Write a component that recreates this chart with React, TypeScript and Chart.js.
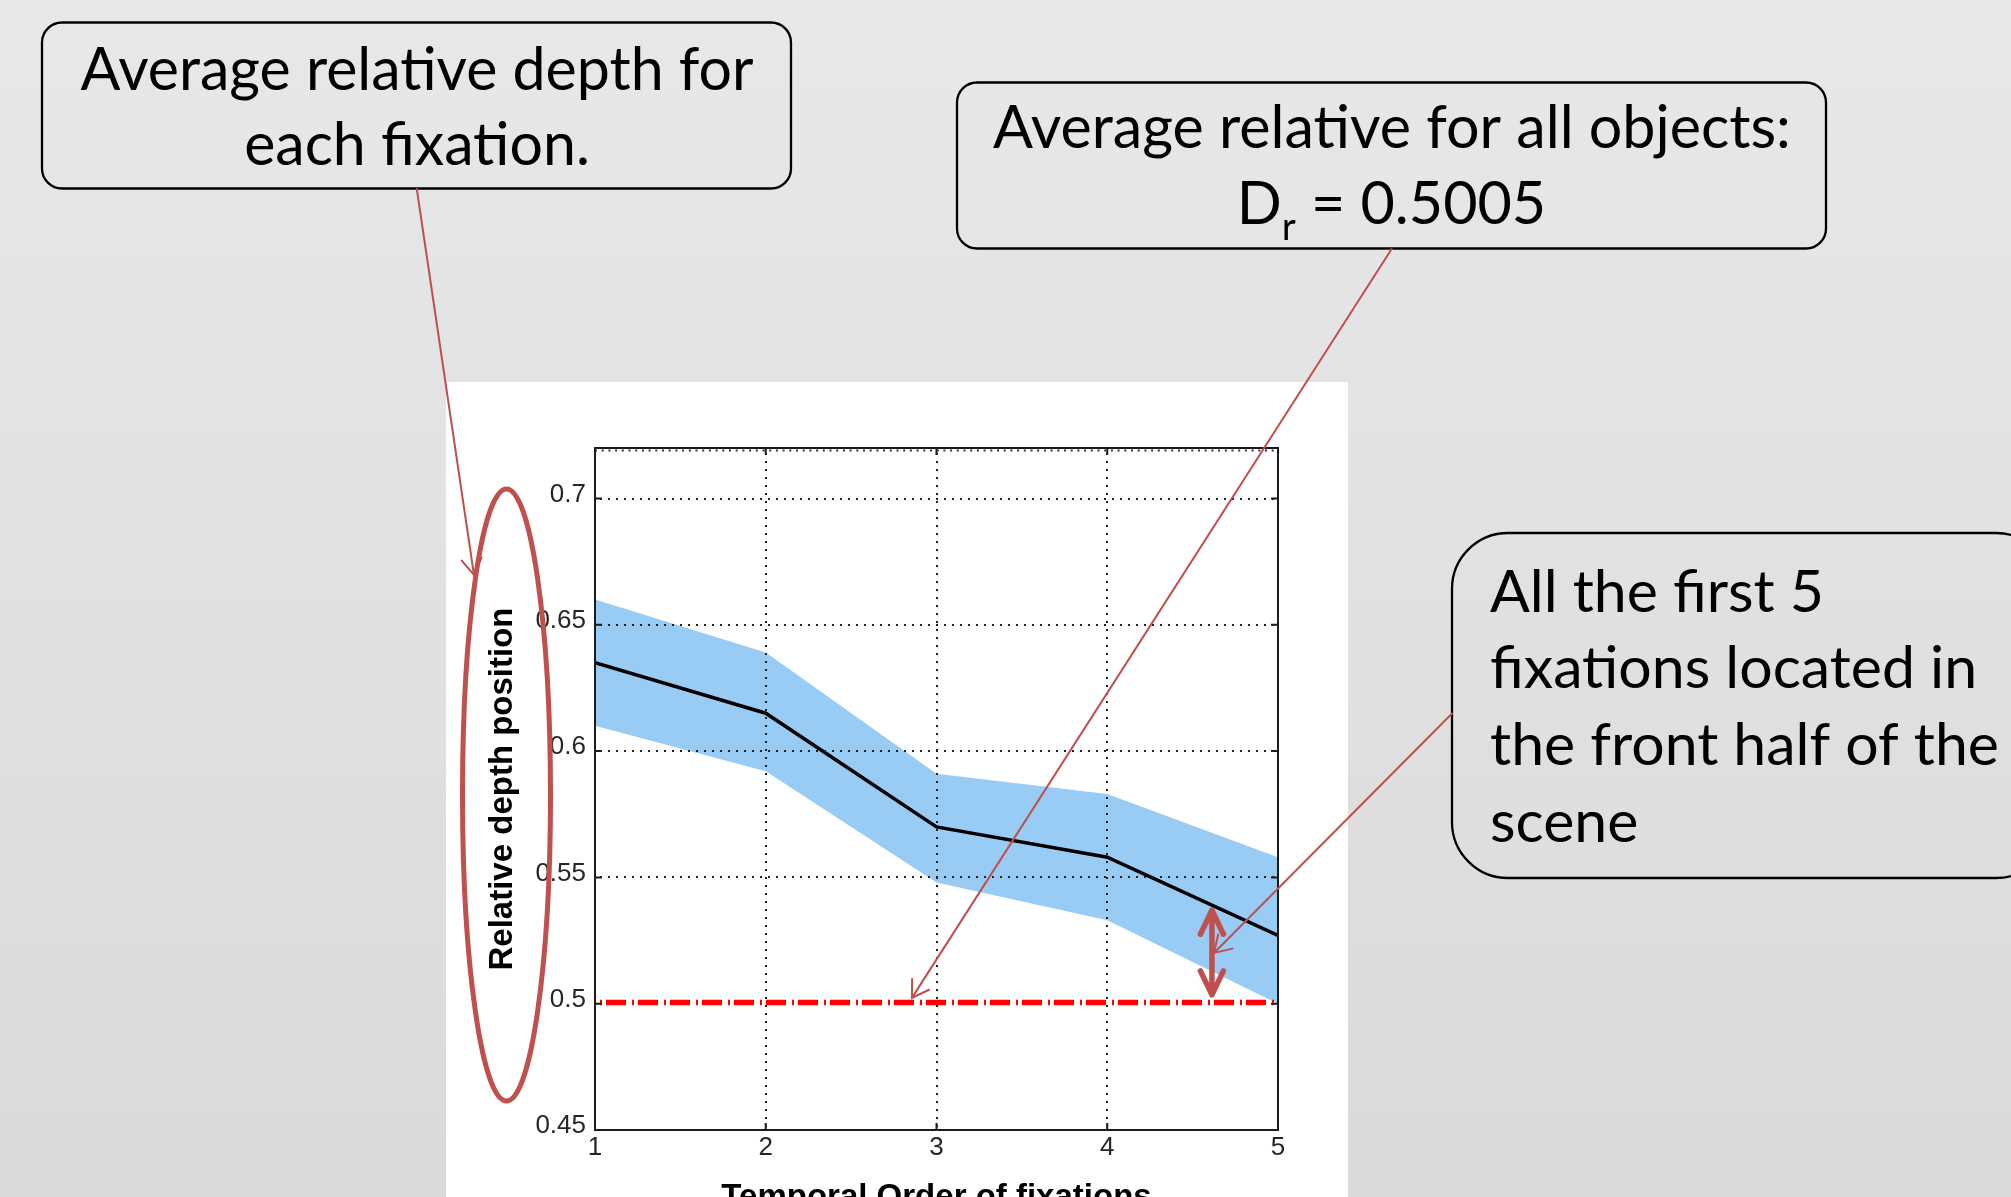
import React, { useEffect, useRef } from "react";
import { Chart, registerables } from "chart.js";

Chart.register(...registerables);

// ---------------- data ----------------
const FIXATION_ORDER = [1, 2, 3, 4, 5];
const MEAN_DEPTH = [0.635, 0.615, 0.570, 0.558, 0.527];
const UPPER_BAND = [0.660, 0.639, 0.591, 0.583, 0.558];
const LOWER_BAND = [0.610, 0.592, 0.548, 0.533, 0.500];
const ALL_OBJECTS_MEAN = [0.5005, 0.5005, 0.5005, 0.5005, 0.5005];

const X_TICKS = [1, 2, 3, 4, 5];
const X_TICK_LABELS = ["1", "2", "3", "4", "5"];
const Y_TICKS = [0.45, 0.5, 0.55, 0.6, 0.65, 0.7];
const Y_TICK_LABELS = ["0.45", "0.5", "0.55", "0.6", "0.65", "0.7"];
const Y_MIN = 0.45;
const Y_MAX = 0.72;

const X_TITLE = "Temporal Order of fixations";
const Y_TITLE = "Relative depth position";

const NOTE_EACH = ["Average relative depth for", "each fixation."];
const NOTE_ALL_LINE1 = "Average relative for all objects:";
const NOTE_ALL_SYMBOL = "D";
const NOTE_ALL_SUB = "r";
const NOTE_ALL_VALUE = " = 0.5005";
const NOTE_FRONT = ["All the first 5", "fixations located in", "the front half of the", "scene"];

// ---------------- styling ----------------
const W = 2011;
const H = 1218;
const AXIS_FONT = "'Liberation Sans', Arial, Helvetica, sans-serif";
const NOTE_FONT = "Lato, 'Open Sans', sans-serif";
const ACCENT = "#C0504D";
const BAND = "rgb(153, 204, 245)";
const GRID = "#1f1f1f";

function pts(ys: number[]) {
  return FIXATION_ORDER.map((x, i) => ({ x, y: ys[i] }));
}

function roundRectPath(ctx: CanvasRenderingContext2D, x: number, y: number, w: number, h: number, r: number) {
  ctx.beginPath();
  ctx.moveTo(x + r, y);
  ctx.lineTo(x + w - r, y);
  ctx.arcTo(x + w, y, x + w, y + r, r);
  ctx.lineTo(x + w, y + h - r);
  ctx.arcTo(x + w, y + h, x + w - r, y + h, r);
  ctx.lineTo(x + r, y + h);
  ctx.arcTo(x, y + h, x, y + h - r, r);
  ctx.lineTo(x, y + r);
  ctx.arcTo(x, y, x + r, y, r);
  ctx.closePath();
}

function fitSize(ctx: CanvasRenderingContext2D, text: string, target: number) {
  ctx.font = `100px ${NOTE_FONT}`;
  const w = ctx.measureText(text).width;
  return (100 * target) / w;
}

function thinArrow(ctx: CanvasRenderingContext2D, x1: number, y1: number, x2: number, y2: number, head: number, half: number) {
  const ang = Math.atan2(y2 - y1, x2 - x1);
  ctx.beginPath();
  ctx.moveTo(x1, y1);
  ctx.lineTo(x2, y2);
  ctx.moveTo(x2 - head * Math.cos(ang - half), y2 - head * Math.sin(ang - half));
  ctx.lineTo(x2, y2);
  ctx.lineTo(x2 - head * Math.cos(ang + half), y2 - head * Math.sin(ang + half));
  ctx.stroke();
}

const backgroundPlugin = {
  id: "slideBackground",
  beforeDraw(chart: any) {
    const { ctx } = chart;
    ctx.save();
    const g = ctx.createLinearGradient(0, 0, 0, 1197);
    g.addColorStop(0, "#e8e8e8");
    g.addColorStop(1, "#dadada");
    ctx.fillStyle = g;
    ctx.fillRect(0, 0, W, H);
    ctx.fillStyle = "#ffffff";
    ctx.fillRect(446, 382, 902, H - 382);
    ctx.restore();
  },
};

const framePlugin = {
  id: "matlabFrame",
  afterDatasetsDraw(chart: any) {
    const { ctx, chartArea: a, scales } = chart;
    const xs = scales.x;
    const ys = scales.y;
    ctx.save();
    ctx.strokeStyle = "#1a1a1a";
    ctx.lineWidth = 2;
    ctx.strokeRect(a.left, a.top, a.right - a.left, a.bottom - a.top);
    const tl = 7;
    ctx.beginPath();
    X_TICKS.forEach((v) => {
      const p = xs.getPixelForValue(v);
      ctx.moveTo(p, a.bottom);
      ctx.lineTo(p, a.bottom - tl);
      ctx.moveTo(p, a.top);
      ctx.lineTo(p, a.top + tl);
    });
    Y_TICKS.forEach((v) => {
      const p = ys.getPixelForValue(v);
      ctx.moveTo(a.left, p);
      ctx.lineTo(a.left + tl, p);
      ctx.moveTo(a.right, p);
      ctx.lineTo(a.right - tl, p);
    });
    ctx.stroke();
    ctx.setLineDash([2, 4.7]);
    ctx.lineWidth = 2;
    ctx.strokeStyle = "#333";
    ctx.beginPath();
    ctx.moveTo(a.left, a.top + 2.5);
    ctx.lineTo(a.right, a.top + 2.5);
    ctx.stroke();
    ctx.restore();
  },
};

const annotationPlugin = {
  id: "slideAnnotations",
  afterDraw(chart: any) {
    const { ctx, scales } = chart;
    const xs = scales.x;
    const ys = scales.y;
    const px = (v: number) => xs.getPixelForValue(v);
    const py = (v: number) => ys.getPixelForValue(v);
    ctx.save();

    // ellipse around the y-axis title
    ctx.strokeStyle = ACCENT;
    ctx.lineWidth = 5;
    ctx.beginPath();
    ctx.ellipse(506.5, 795, 44, 306, 0, 0, Math.PI * 2);
    ctx.stroke();

    // callout boxes
    ctx.strokeStyle = "#000";
    ctx.lineWidth = 2.3;
    roundRectPath(ctx, 42, 22.5, 749, 166, 20);
    ctx.stroke();
    roundRectPath(ctx, 957, 82.5, 869, 166, 20);
    ctx.stroke();
    roundRectPath(ctx, 1452, 533, 600, 345, 56);
    ctx.stroke();

    // callout texts
    ctx.fillStyle = "#000";
    ctx.textBaseline = "alphabetic";
    const s1 = fitSize(ctx, NOTE_EACH[0], 673);
    ctx.font = `${s1}px ${NOTE_FONT}`;
    ctx.textAlign = "center";
    ctx.fillText(NOTE_EACH[0], 417, 89.5);
    ctx.fillText(NOTE_EACH[1], 417, 165);

    const s2 = fitSize(ctx, NOTE_ALL_LINE1, 798);
    ctx.font = `${s2}px ${NOTE_FONT}`;
    ctx.fillText(NOTE_ALL_LINE1, 1392, 148);
    ctx.textAlign = "left";
    const wD = ctx.measureText(NOTE_ALL_SYMBOL).width;
    const wV = ctx.measureText(NOTE_ALL_VALUE).width;
    ctx.font = `${s2 * 0.65}px ${NOTE_FONT}`;
    const wR = ctx.measureText(NOTE_ALL_SUB).width;
    const total = wD + wR + wV;
    let x0 = 1391.5 - total / 2;
    ctx.font = `${s2}px ${NOTE_FONT}`;
    ctx.fillText(NOTE_ALL_SYMBOL, x0, 224);
    x0 += wD;
    ctx.font = `${s2 * 0.65}px ${NOTE_FONT}`;
    ctx.fillText(NOTE_ALL_SUB, x0, 240);
    x0 += wR;
    ctx.font = `${s2}px ${NOTE_FONT}`;
    ctx.fillText(NOTE_ALL_VALUE, x0, 224);

    const s3 = fitSize(ctx, NOTE_FRONT[2], 509);
    ctx.font = `${s3}px ${NOTE_FONT}`;
    const baselines = [611.7, 688.3, 765, 841.7];
    NOTE_FRONT.forEach((t, i) => ctx.fillText(t, 1490, baselines[i]));

    // thin pointer arrows
    ctx.strokeStyle = ACCENT;
    ctx.lineWidth = 2;
    ctx.lineCap = "round";
    const half = (32 * Math.PI) / 180;
    thinArrow(ctx, 416.8, 189, 474, 575, 19, half);
    thinArrow(ctx, 1391.6, 249, px(2.856), py(0.5023), 19, half);
    thinArrow(ctx, 1452, 713.5, px(4.625), py(0.5201), 19, half);

    // thick double-headed arrow between band and overall mean
    const ax = px(4.613);
    const yTop = py(0.537);
    const yBot = py(0.5035);
    ctx.lineWidth = 5.5;
    ctx.lineJoin = "round";
    ctx.beginPath();
    ctx.moveTo(ax, yTop);
    ctx.lineTo(ax, yBot);
    ctx.moveTo(ax - 11.5, yTop + 24);
    ctx.lineTo(ax, yTop);
    ctx.lineTo(ax + 11.5, yTop + 24);
    ctx.moveTo(ax - 11.5, yBot - 24);
    ctx.lineTo(ax, yBot);
    ctx.lineTo(ax + 11.5, yBot - 24);
    ctx.stroke();

    ctx.restore();
  },
};

function buildConfig(): any {
  return {
    type: "line",
    data: {
      datasets: [
        {
          label: "mean",
          data: pts(MEAN_DEPTH),
          borderColor: "#000000",
          borderWidth: 3.5,
          pointRadius: 0,
          tension: 0,
          fill: false,
          order: 0,
        },
        {
          label: "all objects",
          data: pts(ALL_OBJECTS_MEAN),
          borderColor: "#ff0000",
          borderWidth: 5.5,
          borderDash: [20, 6, 2, 4],
          borderDashOffset: 21,
          borderCapStyle: "butt",
          pointRadius: 0,
          fill: false,
          order: 1,
        },
        {
          label: "upper",
          data: pts(UPPER_BAND),
          borderWidth: 0,
          borderColor: "rgba(0,0,0,0)",
          backgroundColor: BAND,
          pointRadius: 0,
          tension: 0,
          fill: "+1",
          order: 2,
        },
        {
          label: "lower",
          data: pts(LOWER_BAND),
          borderWidth: 0,
          borderColor: "rgba(0,0,0,0)",
          pointRadius: 0,
          tension: 0,
          fill: false,
          order: 3,
        },
      ],
    },
    options: {
      animation: false,
      responsive: false,
      devicePixelRatio: 1,
      events: [],
      layout: { padding: { left: 483, right: W - 1278, top: 448, bottom: 0 } },
      plugins: {
        legend: { display: false },
        tooltip: { enabled: false },
      },
      scales: {
        x: {
          type: "linear",
          min: 1,
          max: 5,
          afterBuildTicks: (s: any) => {
            s.ticks = X_TICKS.map((v) => ({ value: v }));
          },
          afterFit: (s: any) => {
            s.height = 88;
          },
          ticks: {
            font: { family: AXIS_FONT, size: 26 },
            color: "#262626",
            padding: 2,
            maxRotation: 0,
            autoSkip: false,
            callback: (_v: any, i: number) => X_TICK_LABELS[i],
          },
          grid: { color: GRID, lineWidth: 2, drawTicks: false, z: 1 },
          border: { display: false, dash: [2, 6], dashOffset: 3 },
          title: {
            display: true,
            text: X_TITLE,
            color: "#000",
            padding: 0,
            font: { family: AXIS_FONT, size: 33, weight: "bold" },
          },
        },
        y: {
          type: "linear",
          min: Y_MIN,
          max: Y_MAX,
          afterBuildTicks: (s: any) => {
            s.ticks = Y_TICKS.map((v) => ({ value: v }));
          },
          afterFit: (s: any) => {
            s.width = 112;
          },
          ticks: {
            font: { family: AXIS_FONT, size: 26 },
            color: "#262626",
            padding: 9,
            labelOffset: -4,
            autoSkip: false,
            callback: (_v: any, i: number) => Y_TICK_LABELS[i],
          },
          grid: {
            // the 0.5 grid line sits under the red reference line
            color: (c: any) => (c.tick && Math.abs(c.tick.value - 0.5) < 1e-9 ? "rgba(0,0,0,0)" : GRID),
            lineWidth: 2,
            drawTicks: false,
            z: 1,
          },
          border: { display: false, dash: [2, 6], dashOffset: 3 },
          title: {
            display: true,
            text: Y_TITLE,
            color: "#000",
            padding: 0,
            font: { family: AXIS_FONT, size: 33, weight: "bold" },
          },
        },
      },
    },
    plugins: [backgroundPlugin, framePlugin, annotationPlugin],
  };
}

export default function App() {
  const ref = useRef<HTMLCanvasElement>(null);
  useEffect(() => {
    const canvas = ref.current;
    if (!canvas) return;
    const chart = new Chart(canvas, buildConfig());
    let alive = true;
    const fonts: any = (document as any).fonts;
    if (fonts && fonts.load) {
      Promise.all([
        fonts.load(`60px Lato`),
        fonts.load(`bold 33px 'Liberation Sans'`),
        fonts.load(`26px 'Liberation Sans'`),
      ])
        .then(() => {
          if (alive) chart.update();
        })
        .catch(() => {});
    }
    return () => {
      alive = false;
      chart.destroy();
    };
  }, []);
  return (
    <div
      style={{
        position: "fixed",
        left: 0,
        top: 0,
        width: W,
        height: 1197,
        overflow: "hidden",
        background: "#e2e2e2",
      }}
    >
      <canvas ref={ref} width={W} height={H} style={{ display: "block", width: W, height: H }} />
    </div>
  );
}
